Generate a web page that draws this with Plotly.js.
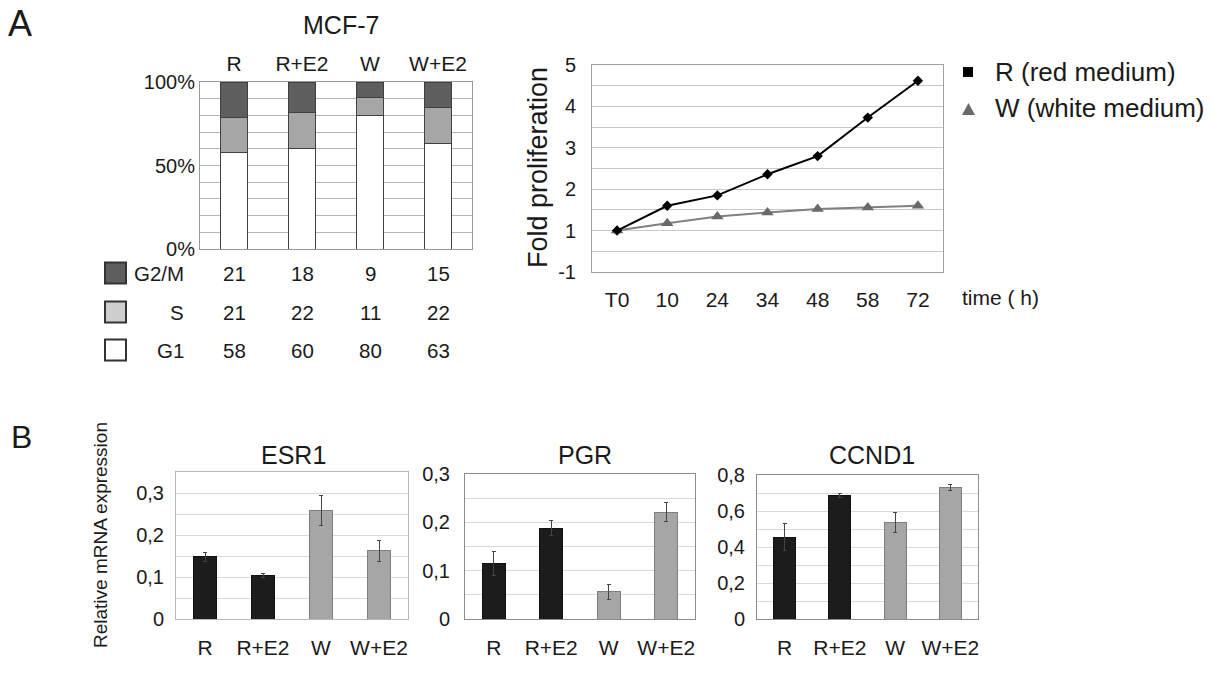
<!DOCTYPE html>
<html>
<head>
<meta charset="utf-8">
<script src="https://cdn.plot.ly/plotly-3.0.1.min.js"></script>
<style>html,body{margin:0;padding:0;background:#fff;}#chart{width:1213px;height:676px;}</style>
</head>
<body>
<div id="chart"></div>
<script>
// ---------- DATA ----------
const cellTitle = 'MCF-7';
const treatments = ['R', 'R+E2', 'W', 'W+E2'];
const phases = ['G2/M', 'S', 'G1'];
const g2m = [21, 18, 9, 15];
const sPhase = [21, 22, 11, 22];
const g1 = [58, 60, 80, 63];
const pctTicks = [0, 50, 100];
const pctTickText = ['0%', '50%', '100%'];

const timeLabels = ['T0', '10', '24', '34', '48', '58', '72'];
const redMedium = [1.0, 1.60, 1.85, 2.36, 2.80, 3.73, 4.62];
const whiteMedium = [1.0, 1.18, 1.34, 1.44, 1.52, 1.56, 1.60];
const foldTickVals = [0, 1, 2, 3, 4, 5];
const foldTickText = ['-1', '1', '2', '3', '4', '5'];
const seriesNames = ['R (red medium)', 'W (white medium)'];

const genes = ['ESR1', 'PGR', 'CCND1'];
const esr1 = [0.148, 0.103, 0.259, 0.162];
const esr1Err = [0.010, 0.005, 0.036, 0.025];
const pgr = [0.114, 0.188, 0.056, 0.221];
const pgrErr = [0.025, 0.015, 0.016, 0.020];
const ccnd1 = [0.454, 0.687, 0.537, 0.731];
const ccnd1Err = [0.075, 0.010, 0.055, 0.016];

// ---------- LAYOUT HELPERS ----------
const W = 1213, H = 676;
const fx = p => p / W;
const fy = p => 1 - p / H;
const FONT = 'Liberation Sans, Arial, Helvetica, sans-serif';
const TXT = '#1a1a1a';

// gridline ticks: labelled ticks plus unlabelled intermediate grid steps
function gridTicks(vals, texts, step, max) {
  const tv = [], tt = [];
  for (let v = 0; v <= max + 1e-9; v += step) {
    const r = Math.round(v * 1000) / 1000;
    tv.push(r);
    const k = vals.indexOf(r);
    tt.push(k >= 0 ? texts[k] : '');
  }
  return {tickvals: tv, ticktext: tt};
}

const barColorsB = ['#1c1c1c', '#1c1c1c', '#a6a6a6', '#a6a6a6'];
const barLinesB = ['#111111', '#111111', '#7f7f7f', '#7f7f7f'];

const traces = [];
// Panel A stacked bars
traces.push({type: 'bar', x: treatments, y: g1, name: 'G1', xaxis: 'x', yaxis: 'y', width: 0.41,
  marker: {color: '#ffffff', line: {color: '#404040', width: 1}}, showlegend: false, hoverinfo: 'skip'});
traces.push({type: 'bar', x: treatments, y: sPhase, name: 'S', xaxis: 'x', yaxis: 'y', width: 0.41,
  marker: {color: '#a6a6a6', line: {color: '#404040', width: 1}}, showlegend: false, hoverinfo: 'skip'});
traces.push({type: 'bar', x: treatments, y: g2m, name: 'G2/M', xaxis: 'x', yaxis: 'y', width: 0.41,
  marker: {color: '#5e5e5e', line: {color: '#404040', width: 1}}, showlegend: false, hoverinfo: 'skip'});

// Panel A line chart
traces.push({type: 'scatter', mode: 'lines+markers', x: timeLabels, y: whiteMedium, name: seriesNames[1],
  xaxis: 'x2', yaxis: 'y2', line: {color: '#808080', width: 2},
  marker: {symbol: 'triangle-up', size: 11, color: '#6a6a6a'}, showlegend: false});
traces.push({type: 'scatter', mode: 'lines+markers', x: timeLabels, y: redMedium, name: seriesNames[0],
  xaxis: 'x2', yaxis: 'y2', line: {color: '#000000', width: 2},
  marker: {symbol: 'diamond', size: 8, color: '#000000'}, showlegend: false});

// Panel B bars
const bData = [[esr1, esr1Err], [pgr, pgrErr], [ccnd1, ccnd1Err]];
bData.forEach((d, i) => {
  traces.push({type: 'bar', x: treatments, y: d[0], name: genes[i], xaxis: 'x' + (i + 3), yaxis: 'y' + (i + 3),
    width: 0.4, marker: {color: barColorsB, line: {color: barLinesB, width: 1}},
    error_y: {type: 'data', array: d[1], visible: true, color: '#444', thickness: 1, width: 2},
    showlegend: false});
});

const tickFont = {family: FONT, size: 20, color: TXT};

function catAxis(domain, anchor, extra) {
  return Object.assign({domain: domain, anchor: anchor, type: 'category', showgrid: false, zeroline: false,
    ticks: '', tickfont: {family: FONT, size: 21, color: TXT}, fixedrange: true}, extra || {});
}

const pctT = gridTicks(pctTicks, pctTickText, 10, 100);
const foldT = gridTicks(foldTickVals, foldTickText, 0.5, 5);

const layout = {
  width: W, height: H,
  margin: {l: 0, r: 0, t: 0, b: 0},
  paper_bgcolor: '#ffffff', plot_bgcolor: 'rgba(0,0,0,0)',
  separators: ',.',
  barmode: 'stack',
  showlegend: false,
  font: {family: FONT, color: TXT},

  xaxis: catAxis([fx(200), fx(472)], 'y', {side: 'top', range: [-0.5, 3.5], ticklabelstandoff: 2,
    showline: true, mirror: true, linecolor: '#9a9a9a', linewidth: 1}),
  yaxis: {domain: [fy(249), fy(82)], anchor: 'x', range: [0, 100], tickmode: 'array',
    tickvals: pctT.tickvals, ticktext: pctT.ticktext,
    showgrid: true, gridcolor: '#b5b5b5', zeroline: false, ticks: '', tickfont: {family: FONT, size: 20, color: TXT},
    showline: true, mirror: true, linecolor: '#9a9a9a', ticklabelstandoff: 0},

  xaxis2: catAxis([fx(592), fx(943)], 'y2', {range: [-0.5, 6.5], ticklabelstandoff: 9,
    showline: true, mirror: true, linecolor: '#a0a0a0'}),
  yaxis2: {domain: [fy(272), fy(65)], anchor: 'x2', range: [0, 5], tickmode: 'array',
    tickvals: foldT.tickvals, ticktext: foldT.ticktext,
    showgrid: true, gridcolor: '#c8c8c8', zeroline: false, ticks: '', tickfont: tickFont,
    showline: true, mirror: true, linecolor: '#a0a0a0', ticklabelstandoff: 11},

  xaxis3: catAxis([fx(176), fx(408)], 'y3', {range: [-0.5, 3.5], ticklabelstandoff: 10,
    showline: true, mirror: true, linecolor: '#b8b8b8'}),
  yaxis3: {domain: [fy(619), fy(472)], anchor: 'x3', range: [0, 0.35], dtick: 0.1, tick0: 0,
    showgrid: true, gridcolor: '#d9d9d9', zeroline: false, ticks: '', tickfont: tickFont,
    minor: {dtick: 0.05, showgrid: true, gridcolor: '#d9d9d9'},
    showline: true, mirror: true, linecolor: '#b8b8b8', ticklabelstandoff: 7},

  xaxis4: catAxis([fx(465), fx(695)], 'y4', {range: [-0.5, 3.5], ticklabelstandoff: 10,
    showline: true, mirror: true, linecolor: '#8c8c8c'}),
  yaxis4: {domain: [fy(619), fy(474)], anchor: 'x4', range: [0, 0.3], dtick: 0.1, tick0: 0,
    showgrid: true, gridcolor: '#d9d9d9', zeroline: false, ticks: '', tickfont: tickFont,
    minor: {dtick: 0.05, showgrid: true, gridcolor: '#d9d9d9'},
    showline: true, mirror: true, linecolor: '#8c8c8c', ticklabelstandoff: 10},

  xaxis5: catAxis([fx(757), fx(978)], 'y5', {range: [-0.5, 3.5], ticklabelstandoff: 10,
    showline: true, mirror: true, linecolor: '#8c8c8c'}),
  yaxis5: {domain: [fy(619), fy(475)], anchor: 'x5', range: [0, 0.8], dtick: 0.2, tick0: 0,
    showgrid: true, gridcolor: '#d9d9d9', zeroline: false, ticks: '', tickfont: tickFont,
    minor: {dtick: 0.1, showgrid: true, gridcolor: '#d9d9d9'},
    showline: true, mirror: true, linecolor: '#8c8c8c', ticklabelstandoff: 7},

  annotations: [],
  shapes: []
};

const ann = layout.annotations;
function addText(text, x, y, size, opts) {
  ann.push(Object.assign({text: text, x: fx(x), y: fy(y), xref: 'paper', yref: 'paper', showarrow: false,
    xanchor: 'center', yanchor: 'middle', font: {family: FONT, size: size, color: TXT}}, opts || {}));
}
addText('A', 20, 23, 36);
addText('B', 21, 437, 32);
addText(cellTitle, 341, 25, 25);

// table below panel A left
const rowY = [273, 312, 350];
const rowVals = [g2m, sPhase, g1];
const swatch = ['#5e5e5e', '#cfcfcf', '#ffffff'];
phases.forEach((p, i) => {
  addText(p, 186, rowY[i], 20.5, {xanchor: 'right'});
  layout.shapes.push({type: 'rect', xref: 'paper', yref: 'paper', x0: fx(105), x1: fx(126),
    y0: fy(rowY[i] + 10.5), y1: fy(rowY[i] - 10.5), fillcolor: swatch[i], line: {color: '#333', width: 2}});
  treatments.forEach((t, j) => {
    ann.push({text: String(rowVals[i][j]), x: t, y: fy(rowY[i]), xref: 'x', yref: 'paper', showarrow: false,
      xanchor: 'center', yanchor: 'middle', font: {family: FONT, size: 20.5, color: TXT}});
  });
});

// line chart legend
addText(seriesNames[0], 993, 72, 26, {xanchor: 'left'});
addText(seriesNames[1], 993, 108, 26, {xanchor: 'left'});
layout.shapes.push({type: 'rect', xref: 'paper', yref: 'paper', x0: fx(963), x1: fx(973), y0: fy(77), y1: fy(67),
  fillcolor: '#000', line: {width: 0}});
layout.shapes.push({type: 'path', xref: 'paper', yref: 'paper',
  path: `M ${fx(962)} ${fy(115)} L ${fx(975)} ${fy(115)} L ${fx(968.5)} ${fy(103)} Z`,
  fillcolor: '#6a6a6a', line: {width: 0}});
addText('time ( h)', 960, 297, 21, {xanchor: 'left'});
addText('Fold proliferation', 538, 168, 27, {textangle: -90});

// panel B titles and shared y title
const titleX = [293, 585, 872];
genes.forEach((g, i) => addText(g, titleX[i], 455, 25));
addText('Relative mRNA expression', 100, 535, 19, {textangle: -90});

Plotly.newPlot('chart', traces, layout, {staticPlot: true});
</script>
</body>
</html>
